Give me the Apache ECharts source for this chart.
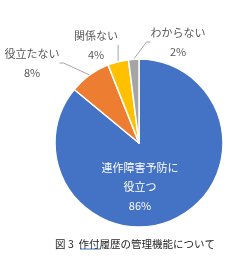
<!DOCTYPE html>
<html><head><meta charset="utf-8">
<script src="https://cdn.jsdelivr.net/npm/echarts@6/dist/echarts.min.js"></script>
<style>html,body{margin:0;padding:0;background:#fff}#c{width:242px;height:257px}</style>
</head><body><div id="c"></div>
<script>
const categories = ['連作障害予防に\n役立つ', '役立たない', '関係ない', 'わからない'];
const values = [86, 8, 4, 2];
const colors = ['#4472C4', '#ED7D31', '#FFC000', '#A5A5A5'];
const titleText = '図 3  作付履歴の管理機能について';

const labelPos = [[140, 187], [32, 63], [96, 45], [178, 42]];

const chart = echarts.init(document.getElementById('c'));
const font = '"Noto Sans CJK JP", sans-serif';
chart.setOption({
  animation: false,
  title: {
    text: titleText, left: 130, top: 234, textAlign: 'center',
    textStyle: { fontFamily: font, fontSize: 10.5, fontWeight: 'normal', color: '#262626' }
  },
  graphic: [{
    type: 'line', shape: { x1: 80, y1: 249, x2: 101, y2: 249 },
    style: { stroke: '#4472C4', lineWidth: 1 }
  }],
  series: [{
    type: 'pie',
    center: [139, 143],
    radius: [0, 84],
    startAngle: 90,
    itemStyle: { borderColor: '#fff', borderWidth: 1.5 },
    label: {
      show: true, position: 'outside', fontFamily: font, fontSize: 11, color: '#595959',
      lineHeight: 19, align: 'center', overflow: 'none',
      formatter: p => p.name + '\n' + p.value + '%'
    },
    labelLine: { show: true, length: 8, length2: 4, lineStyle: { color: '#A6A6A6', width: 1 } },
    labelLayout: p => ({ x: labelPos[p.dataIndex][0], y: labelPos[p.dataIndex][1], align: 'center', verticalAlign: 'middle', moveOverlap: null }),
    data: categories.map((n, i) => {
      const d = { name: n, value: values[i], itemStyle: { color: colors[i] } };
      if (i === 0) {
        d.label = { position: 'inside', color: '#fff', lineHeight: 19 };
        d.labelLine = { show: false };
      }
      return d;
    })
  }]
});
</script></body></html>
